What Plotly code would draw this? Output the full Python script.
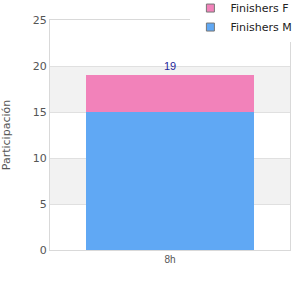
import plotly.graph_objects as go

categories = ["8h"]
finishers_m = [15]
finishers_f = [4]
totals = [m + f for m, f in zip(finishers_m, finishers_f)]
y_ticks = [0, 5, 10, 15, 20, 25]
bands = [(5, 10), (15, 20)]
colors = {"Finishers M": "#60A8F4", "Finishers F": "#F282BA"}

fig = go.Figure()
fig.add_trace(go.Bar(x=categories, y=finishers_m, name="Finishers M", showlegend=False,
                     marker=dict(color=colors["Finishers M"], line=dict(width=0))))
fig.add_trace(go.Bar(x=categories, y=finishers_f, name="Finishers F", showlegend=False,
                     marker=dict(color=colors["Finishers F"], line=dict(width=0))))
# legend entries
for name in ["Finishers F", "Finishers M"]:
    fig.add_trace(go.Scatter(x=[None], y=[None], mode="markers", name=name,
                             marker=dict(symbol="square", size=8, color=colors[name],
                                         line=dict(color="#777", width=1))))

for c, t in zip(categories, totals):
    fig.add_annotation(x=c, y=t, text=str(t), showarrow=False, yshift=9,
                       font=dict(family="Liberation Sans, Arial", size=11, color="#26269A"))

for lo, hi in bands:
    fig.add_shape(type="rect", xref="paper", yref="y", x0=0, x1=1, y0=lo, y1=hi,
                  fillcolor="#F2F2F2", line=dict(width=0), layer="below")

fig.update_layout(
    width=300, height=300,
    margin=dict(l=50, r=10, t=20, b=50, autoexpand=False),
    barmode="stack", bargap=0.3,
    paper_bgcolor="white", plot_bgcolor="white",
    showlegend=True,
    legend=dict(x=0.585, xanchor="left", y=1.115, yanchor="top",
                bgcolor="white", font=dict(family="DejaVu Sans", size=11, color="#222"),
                itemwidth=30, tracegroupgap=0, traceorder="normal"),
    font=dict(family="DejaVu Sans", size=11, color="#555"),
)
fig.update_yaxes(range=[0, 25], tickvals=y_ticks, showgrid=True, gridcolor="#E0E0E0",
                 showline=True, linecolor="#D9D9D9", mirror=True, zeroline=False,
                 ticks="", ticklen=0,
                 title=dict(text="Participación", font=dict(size=11, color="#555"), standoff=24),
                 tickfont=dict(size=11, color="#555"))
fig.update_xaxes(showline=True, linecolor="#D9D9D9", mirror=True,
                 tickfont=dict(family="Liberation Sans, Arial", size=10, color="#555"))

fig.write_html("out.html")
